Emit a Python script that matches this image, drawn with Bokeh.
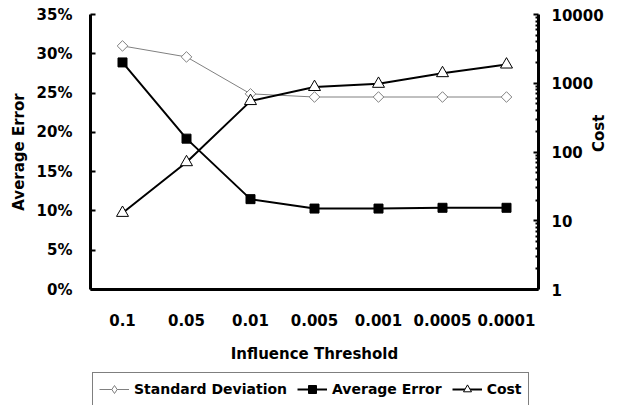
import math
import numpy as np
from bokeh.plotting import figure
from bokeh.layouts import column
from bokeh.models import (FactorRange, Range1d, LogScale, LogAxis, FixedTicker,
                          PrintfTickFormatter, Legend, LegendItem)
from bokeh.embed import file_html
from bokeh.resources import INLINE

thresholds = ["0.1", "0.05", "0.01", "0.005", "0.001", "0.0005", "0.0001"]
std_dev = [31.0, 29.6, 24.9, 24.5, 24.5, 24.5, 24.5]      # percent
avg_error = [28.9, 19.2, 11.5, 10.3, 10.3, 10.4, 10.4]    # percent
cost = [13, 71, 550, 880, 980, 1400, 1870]
pct_ticks = [0, 5, 10, 15, 20, 25, 30, 35]
cost_ticks = [1, 10, 100, 1000, 10000]
cost_minor = [m * d for d in [1, 10, 100, 1000] for m in range(2, 10)]
series_names = ["Standard Deviation", "Average Error", "Cost"]

FONT = "DejaVu Sans"
FS = "15px"

p = figure(width=619, height=372, x_range=FactorRange(*thresholds),
           y_range=Range1d(0, 35), output_backend="svg", toolbar_location=None,
           min_border_left=90, min_border_right=80, min_border_top=14,
           min_border_bottom=83, outline_line_color=None,
           background_fill_color="white", border_fill_color="white")
p.extra_y_ranges = {"cost": Range1d(1, 10000)}
p.extra_y_scales = {"cost": LogScale()}
p.xgrid.visible = False
p.ygrid.visible = False

SD = dict(line_color="#808080", line_width=1)
SD_M = dict(fill_color="white", line_color="#808080", line_width=1)
AE = dict(line_color="black", line_width=2)
AE_M = dict(marker="square", size=9, fill_color="black", line_color="black")
CO = dict(line_color="black", line_width=2)
CO_M = dict(marker="triangle", size=12, fill_color="white", line_color="black", line_width=1)

p.line(thresholds, std_dev, **SD)
p.scatter(thresholds, std_dev, marker="square", angle=np.pi / 4, size=7.5, **SD_M)
p.line(thresholds, avg_error, **AE)
p.scatter(thresholds, avg_error, **AE_M)
p.line(thresholds, cost, y_range_name="cost", **CO)
p.scatter(thresholds, cost, y_range_name="cost", **CO_M)

def style(ax):
    ax.axis_line_width = 3
    ax.axis_line_color = "black"
    ax.major_label_text_font = FONT
    ax.major_label_text_font_style = "bold"
    ax.major_label_text_font_size = FS
    ax.major_label_text_color = "black"
    ax.axis_label_text_font = FONT
    ax.axis_label_text_font_style = "bold"
    ax.axis_label_text_font_size = FS
    ax.axis_label_text_color = "black"

# x axis
xa = p.xaxis[0]
style(xa)
xa.axis_label = "Influence Threshold"
xa.major_tick_in = 0
xa.major_tick_out = 0
xa.minor_tick_in = 0
xa.minor_tick_out = 0
xa.major_label_standoff = 24
xa.axis_label_standoff = 16

# left axis
ya = p.yaxis[0]
style(ya)
ya.axis_label = "Average Error"
ya.ticker = FixedTicker(ticks=pct_ticks)
ya.formatter = PrintfTickFormatter(format="%d%%")
ya.major_tick_in = 5
ya.major_tick_out = 0
ya.major_tick_line_width = 2
ya.minor_tick_in = 0
ya.minor_tick_out = 0
ya.major_label_standoff = 18
ya.axis_label_standoff = 6

# right axis
ra = LogAxis(y_range_name="cost", axis_label="Cost")
style(ra)
ra.ticker = FixedTicker(ticks=cost_ticks, minor_ticks=cost_minor)
ra.formatter = PrintfTickFormatter(format="%d")
ra.major_tick_in = 5
ra.major_tick_out = 0
ra.major_tick_line_width = 2
ra.minor_tick_in = 3
ra.minor_tick_out = 0
ra.minor_tick_line_width = 2
ra.major_label_standoff = 13
ra.axis_label_standoff = -8
if "axis_label_orientation" in ra.properties():
    ra.axis_label_orientation = math.pi / 2
p.add_layout(ra, "right")

# legend strip below the chart (its series lie outside its visible range,
# so only the legend keys show)
lf = figure(width=619, height=33, x_range=FactorRange(*thresholds),
            y_range=Range1d(-2, -1), x_axis_type=None, y_axis_type=None,
            output_backend="svg", toolbar_location=None, min_border=0,
            outline_line_color=None, background_fill_color="white",
            border_fill_color="white")
lf.xgrid.visible = False
lf.ygrid.visible = False
k_sd_l = lf.line(thresholds, std_dev, **SD)
k_sd_m = lf.scatter(thresholds, std_dev, marker="diamond", size=11, **SD_M)
k_ae_l = lf.line(thresholds, avg_error, **AE)
k_ae_m = lf.scatter(thresholds, avg_error, **AE_M)
k_co_l = lf.line(thresholds, cost, **CO)
k_co_m = lf.scatter(thresholds, cost, **CO_M)

legend = Legend(items=[
    LegendItem(label=series_names[0], renderers=[k_sd_l, k_sd_m]),
    LegendItem(label=series_names[1], renderers=[k_ae_l, k_ae_m]),
    LegendItem(label=series_names[2], renderers=[k_co_l, k_co_m]),
], orientation="horizontal", location=(2, -1))
legend.label_text_font = FONT
legend.label_text_font_style = "bold"
legend.label_text_font_size = "14px"
legend.label_text_color = "black"
legend.glyph_width = 30
legend.glyph_height = 20
legend.label_height = 20
legend.label_standoff = 5
legend.spacing = 10
legend.padding = 6
legend.margin = 0
legend.border_line_color = "black"
legend.border_line_width = 1
legend.background_fill_color = "white"
legend.background_fill_alpha = 1
lf.add_layout(legend, "center")

open("out.html", "w").write(file_html(column(p, lf, spacing=0), INLINE))
